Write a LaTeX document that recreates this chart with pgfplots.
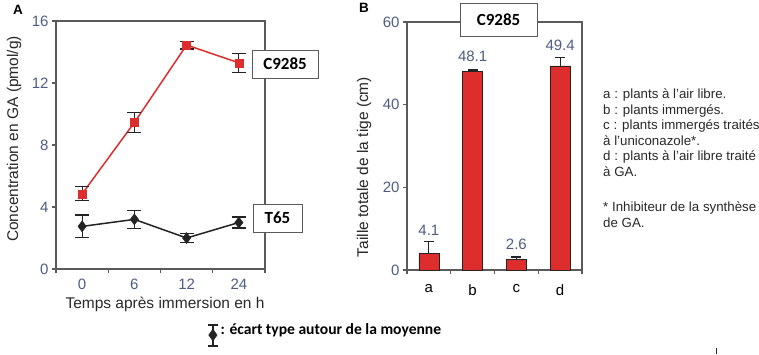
\documentclass[border=0pt]{standalone}
\usepackage{fontspec}
\setmainfont{Liberation Sans}
\newfontfamily\calibri{Carlito}
\usepackage{pgfplots}
\pgfplotsset{compat=1.18}
\definecolor{tickc}{RGB}{78,92,128}
\definecolor{axc}{RGB}{90,90,90}
\definecolor{redc}{RGB}{222,45,45}
\definecolor{darkc}{RGB}{35,35,35}
\definecolor{txtc}{RGB}{40,40,40}
\begin{document}
\begin{tikzpicture}[x=1pt,y=1pt]
\useasboundingbox (0,0) rectangle (759,354);
\pgfplotsset{
  common/.style={
    scale only axis,
    axis line style={axc, line width=1.1pt},
    every tick/.style={axc, line width=1.1pt},
    tick align=outside,
    major tick length=4pt,
    xtick pos=bottom, ytick pos=left,
    ticklabel style={font=\fontsize{15}{18}\selectfont, text=tickc},
    /pgf/number format/assume math mode=true,
    clip=false,
    xmin=-0.5, xmax=3.5,
    xtick={-0.5,0.5,1.5,2.5,3.5}, xticklabels={},
    extra x tick style={major tick length=0pt},
  }
}
% ---------------- Panel A ----------------
\begin{axis}[common, at={(56pt,85pt)}, anchor=south west, width=209pt, height=248pt,
  ymin=0, ymax=16, ytick={0,4,8,12,16},
  extra x ticks={0,1,2,3}, extra x tick labels={0,6,12,24},
  extra x tick style={major tick length=0pt, xticklabel style={yshift=-6pt}},
  legend style={at={(0.723,-0.263)}, anchor=west, draw=none, fill=none, inner sep=0pt,
    font=\calibri\bfseries\fontsize{15.6}{18}\selectfont, text=black},
  legend cell align=left,
]
\addlegendimage{legend image code/.code={
  \draw[darkc, line width=1.2pt] (0pt,-16pt) -- (0pt,5pt);
  \draw[darkc, line width=1.2pt] (-5pt,-16pt) -- (5pt,-16pt);
  \draw[darkc, line width=1.2pt] (-5pt,5pt) -- (5pt,5pt);
  \fill[darkc] (0pt,-11pt) -- (4.2pt,-5pt) -- (0pt,1pt) -- (-4.2pt,-5pt) -- cycle;
}}
\addlegendentry{: écart type autour de la moyenne}
\addplot[redc, line width=1.5pt, mark=square*, mark size=4pt,
  mark options={fill=redc, draw=redc, line width=0.5pt},
  error bars/.cd, y dir=both, y explicit,
  error bar style={darkc, line width=1.2pt},
  error mark options={rotate=90, mark size=7pt, darkc, line width=1.2pt}]
  coordinates {(0,4.85) +- (0,0.45) (1,9.45) +- (0,0.65) (2,14.45) +- (0,0.25) (3,13.3) +- (0,0.6)};
\addplot[darkc, line width=1.5pt, mark=diamond*, mark size=5.5pt,
  mark options={fill=darkc, draw=darkc, line width=0.5pt},
  error bars/.cd, y dir=both, y explicit,
  error bar style={darkc, line width=1.2pt},
  error mark options={rotate=90, mark size=7pt, darkc, line width=1.2pt}]
  coordinates {(0,2.75) +- (0,0.73) (1,3.2) +- (0,0.6) (2,2.0) +- (0,0.3) (3,3.0) +- (0,0.35)};
\end{axis}
% ---------------- Panel B ----------------
\begin{axis}[common, at={(407pt,84pt)}, anchor=south west, width=175pt, height=248pt,
  ymin=0, ymax=60, ytick={0,20,40,60},
  extra x ticks={0,1,2,3}, extra x tick labels={a,b,c,d},
  extra x tick style={major tick length=0pt, xticklabel style={text=black, yshift=-11pt}},
]
\addplot[ybar, bar width=20pt, fill=redc, draw=darkc, line width=0.6pt,
  error bars/.cd, y dir=plus, y explicit,
  error bar style={darkc, line width=1.2pt},
  error mark options={rotate=90, mark size=5pt, darkc, line width=1.2pt}]
  coordinates {(0,4.1) +- (0,2.8) (1,48.1) +- (0,0.3) (2,2.6) +- (0,0.55) (3,49.4) +- (0,2.1)};
\node[anchor=south, inner sep=0pt, yshift=6pt, text=tickc, font=\fontsize{15}{18}\selectfont] at (axis cs:0,6.9) {4.1};
\node[anchor=south, inner sep=0pt, yshift=8pt, text=tickc, font=\fontsize{15}{18}\selectfont] at (axis cs:1,48.4) {48.1};
\node[anchor=south, inner sep=0pt, yshift=7pt, text=tickc, font=\fontsize{15}{18}\selectfont] at (axis cs:2,3.15) {2.6};
\node[anchor=south, inner sep=0pt, yshift=6pt, text=tickc, font=\fontsize{15}{18}\selectfont] at (axis cs:3,51.5) {49.4};
\end{axis}
% ---------------- Labels ----------------
\node[font=\bfseries\fontsize{13.5}{15}\selectfont] at (18,344) {A};
\node[font=\bfseries\fontsize{13.5}{15}\selectfont] at (364,346) {B};
\node[rotate=90, font=\fontsize{15.5}{18}\selectfont, text=txtc] at (14,215) {Concentration en GA (pmol/g)};
\node[rotate=90, font=\fontsize{15.5}{18}\selectfont, text=txtc] at (364,187) {Taille totale de la tige (cm)};
\node[font=\fontsize{15.5}{18}\selectfont, text=txtc] at (165,50) {Temps après immersion en h};
\node[draw=axc, line width=0.8pt, fill=white, minimum width=66pt, minimum height=28pt, inner sep=0pt,
  font=\calibri\bfseries\fontsize{17}{20}\selectfont] at (285,290) {C9285};
\node[draw=axc, line width=0.8pt, fill=white, minimum width=49pt, minimum height=28pt, inner sep=0pt,
  font=\calibri\bfseries\fontsize{17}{20}\selectfont] at (277.5,136) {T65};
\node[draw=axc, line width=0.8pt, fill=white, minimum width=77pt, minimum height=33pt, inner sep=0pt,
  font=\calibri\bfseries\fontsize{17}{20}\selectfont] at (498.5,334.5) {C9285};
\node[anchor=north west, inner sep=0pt, align=left, text=txtc,
  font=\fontsize{13.3}{15.5}\selectfont] at (603,265) {a : plants à l’air libre.\\
b : plants immergés.\\
c : plants immergés traités\\
à l’uniconazole*.\\
d : plants à l’air libre traité\\
à GA.\\[20pt]
* Inhibiteur de la synthèse\\
de GA.};
\draw[line width=0.8pt, darkc] (716,0) -- (716,6);
\end{tikzpicture}
\end{document}
